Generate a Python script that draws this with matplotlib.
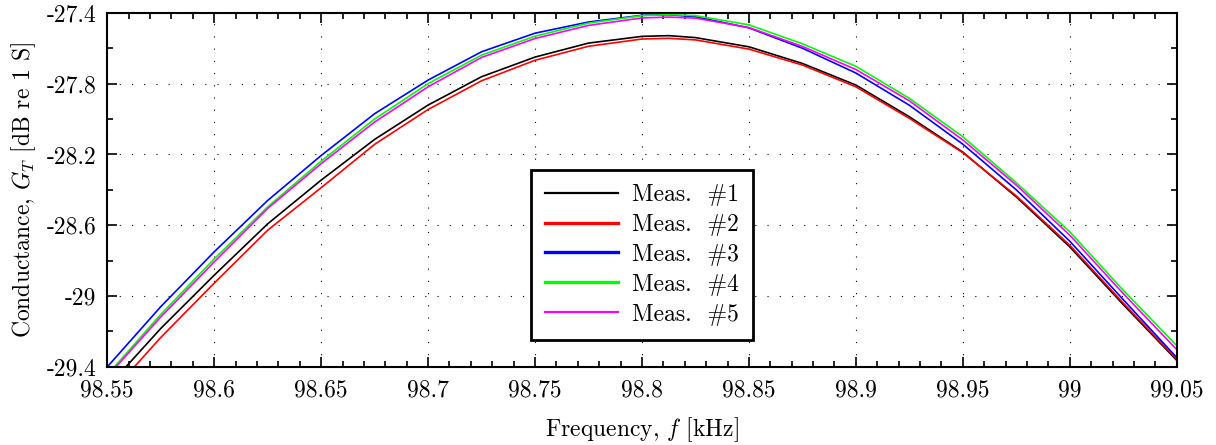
import numpy as np
import matplotlib
matplotlib.use("Agg")
import matplotlib.pyplot as plt
from matplotlib.ticker import FuncFormatter

# Frequency grid of the sweep [kHz]
freq_khz = [98.55, 98.575, 98.60, 98.625, 98.65, 98.675, 98.70, 98.725, 98.75,
            98.775, 98.80, 98.8125, 98.825, 98.85, 98.875, 98.90, 98.925, 98.95,
            98.975, 99.00, 99.025, 99.05]

# Conductance of each measurement [dB re 1 S]
meas1 = [-29.516, -29.183, -28.882, -28.592, -28.345, -28.115, -27.921, -27.761,
         -27.650, -27.571, -27.533, -27.529, -27.540, -27.592, -27.686, -27.808,
         -27.987, -28.187, -28.440, -28.722, -29.048, -29.363]
meas2 = [-29.570, -29.234, -28.927, -28.628, -28.388, -28.143, -27.946, -27.784,
         -27.668, -27.589, -27.548, -27.544, -27.553, -27.605, -27.695, -27.818,
         -27.996, -28.190, -28.434, -28.713, -29.039, -29.357]
meas3 = [-29.400, -29.060, -28.750, -28.460, -28.206, -27.970, -27.780, -27.620,
         -27.515, -27.452, -27.414, -27.411, -27.422, -27.485, -27.600, -27.740,
         -27.922, -28.142, -28.400, -28.690, -29.020, -29.347]
meas4 = [-29.445, -29.104, -28.790, -28.496, -28.238, -28.000, -27.800, -27.639,
         -27.532, -27.458, -27.416, -27.410, -27.416, -27.468, -27.575, -27.702,
         -27.883, -28.100, -28.360, -28.637, -28.967, -29.280]
meas5 = [-29.455, -29.118, -28.807, -28.505, -28.252, -28.017, -27.818, -27.652,
         -27.545, -27.471, -27.429, -27.424, -27.430, -27.483, -27.590, -27.720,
         -27.897, -28.118, -28.373, -28.656, -28.986, -29.302]

labels = ["Meas.  #1", "Meas.  #2", "Meas.  #3", "Meas.  #4", "Meas.  #5"]
colors = ["#000000", "#ff0000", "#0000ff", "#00ff00", "#ff00ff"]
legend_widths = [1.6, 2.4, 2.4, 2.4, 1.6]

x_ticks = [98.55, 98.6, 98.65, 98.7, 98.75, 98.8, 98.85, 98.9, 98.95, 99.0, 99.05]
y_ticks = [-29.4, -29.0, -28.6, -28.2, -27.8, -27.4]

plt.rcParams.update({
    "font.family": ["cmr10", "DejaVu Serif"],
    "mathtext.fontset": "cm",
    "axes.unicode_minus": False,
    "font.size": 17,
})

fig = plt.figure(figsize=(12.16, 4.45), dpi=100)
ax = fig.add_axes([0.0882, 0.1755, 0.8795, 0.7957])

for y, c, lab in zip([meas1, meas2, meas3, meas4, meas5], colors, labels):
    ax.plot(freq_khz, y, color=c, lw=1.2, label=lab, solid_joinstyle="round")

ax.set_xlim(98.55, 99.05)
ax.set_ylim(-29.4, -27.4)
ax.set_xticks(x_ticks)
ax.set_yticks(y_ticks)
ax.set_xticks(np.linspace(98.55, 99.05, 51), minor=True)
ax.set_yticks(np.linspace(-29.4, -27.4, 11), minor=True)
fmt = FuncFormatter(lambda v, p: f"{v:g}")
ax.xaxis.set_major_formatter(fmt)
ax.yaxis.set_major_formatter(fmt)

ax.tick_params(which="both", direction="in", top=True, right=True,
               width=1.2, labelsize=17, colors="black")
ax.tick_params(which="major", length=7.5)
ax.tick_params(axis="x", which="major", pad=9)
ax.tick_params(axis="y", which="major", pad=8)
ax.tick_params(which="minor", length=4.5)
for s in ax.spines.values():
    s.set_linewidth(1.5)

ax.grid(True, which="major", color="black", linestyle=(0, (1, 10)), lw=0.8)

ax.set_xlabel("Frequency, $f$ [kHz]", fontsize=17, labelpad=10)
ax.set_ylabel("Conductance, $G_T$ [dB re 1 S]", fontsize=17, labelpad=6)

leg = ax.legend(loc="center", bbox_to_anchor=(0.5, 0.317), fontsize=17,
                frameon=True, fancybox=False, shadow=False, framealpha=1,
                edgecolor="black", handlelength=3.1, handletextpad=0.6,
                labelspacing=0.33, borderpad=0.6)
leg.get_frame().set_linewidth(2.0)
for h, w in zip(leg.get_lines(), legend_widths):
    h.set_linewidth(w)

fig.savefig("out.png", dpi=100)
